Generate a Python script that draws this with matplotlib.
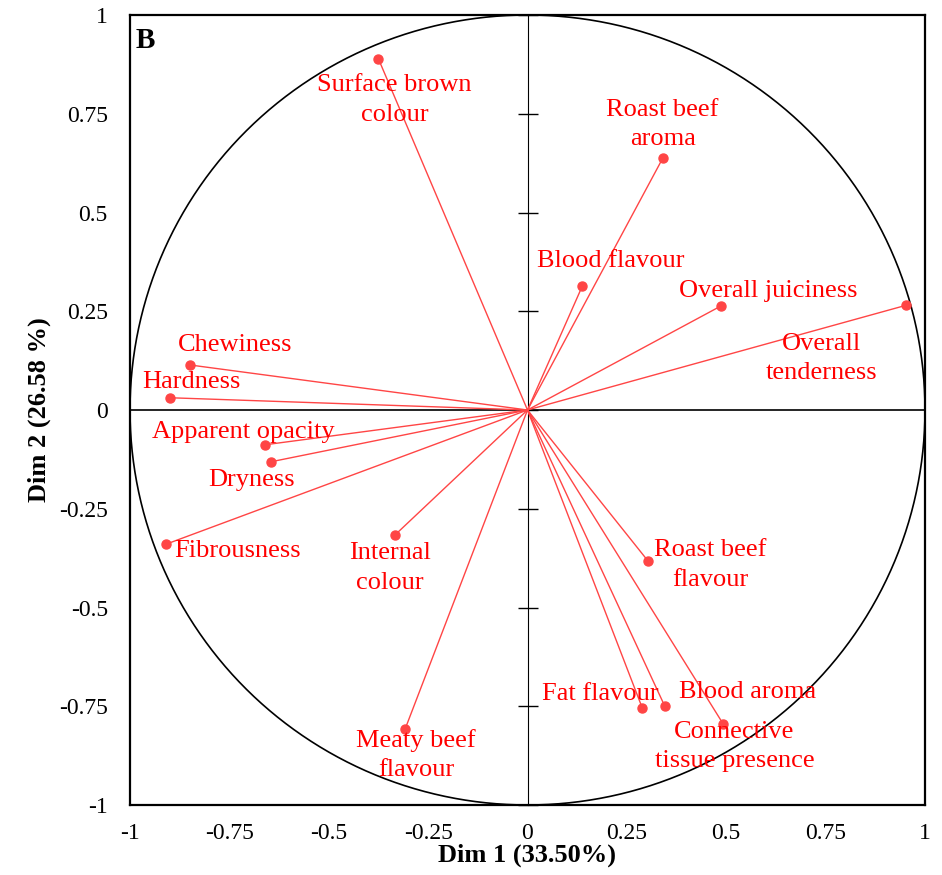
import matplotlib
matplotlib.use("Agg")
import matplotlib.pyplot as plt
import numpy as np

# Variables and their coordinates on Dim 1 / Dim 2
variables = ["Surface brown\ncolour", "Roast beef\naroma", "Blood flavour", "Overall juiciness",
             "Overall\ntenderness", "Chewiness", "Hardness", "Apparent opacity", "Dryness",
             "Fibrousness", "Internal\ncolour", "Meaty beef\nflavour", "Roast beef\nflavour",
             "Fat flavour", "Blood aroma", "Connective\ntissue presence"]
dim1 = [-0.375, 0.340, 0.138, 0.486, 0.952, -0.849, -0.899, -0.660, -0.645,
        -0.910, -0.334, -0.308, 0.303, 0.289, 0.345, 0.493]
dim2 = [0.889, 0.637, 0.314, 0.263, 0.265, 0.114, 0.031, -0.088, -0.131,
        -0.340, -0.317, -0.808, -0.382, -0.755, -0.749, -0.796]
tick_values = [-1, -0.75, -0.5, -0.25, 0, 0.25, 0.5, 0.75, 1]
tick_labels = ["-1", "-0.75", "-0.5", "-0.25", "0", "0.25", "0.5", "0.75", "1"]

# label offsets in pixels (dx right, dy down) from each point
label_offsets = [(16, 41), (0, -34), (28, -25), (48, -15), (-84, 53), (45, -20), (21, -16),
                 (-22, -13), (-20, 18), (72, 7), (-5, 33), (11, 26), (62, 4), (-42, -14),
                 (83, -14), (11, 22)]

plt.rcParams['font.family'] = ['Liberation Serif', 'DejaVu Serif']

fig = plt.figure(figsize=(9.42, 8.75), dpi=100)
ax = fig.add_axes([130 / 942, 1 - 805 / 875, 795 / 942, 790 / 875])
ax.set_xlim(-1, 1)
ax.set_ylim(-1, 1)

# correlation circle
theta = np.linspace(0, 2 * np.pi, 721)
ax.plot(np.cos(theta), np.sin(theta), color='black', lw=1.2, zorder=2)
ax.axhline(0, color='black', lw=1.2, zorder=2)

for name, x, y, (dx, dy) in zip(variables, dim1, dim2, label_offsets):
    ax.plot([0, x], [0, y], color='#ff4545', lw=1.0, zorder=3)
    ax.plot(x, y, 'o', color='#ff4545', ms=6.5, zorder=4)
    ax.annotate(name, (x, y), xytext=(dx * 0.72, -dy * 0.72), textcoords='offset points',
                ha='center', va='center', color='#ff0000', fontsize=19,
                linespacing=1.45, zorder=5)

ax.set_xticks(tick_values)
ax.set_xticklabels(tick_labels)
ax.set_yticks(tick_values)
ax.set_yticklabels(tick_labels)
ax.tick_params(axis='both', length=0, labelsize=17)
ax.tick_params(axis='x', pad=13)
ax.tick_params(axis='y', pad=16)

for s in ax.spines.values():
    s.set_linewidth(1.6)

# central vertical axis with crossing ticks
sec = ax.secondary_yaxis(0.5)
sec.set_yticks(tick_values)
sec.tick_params(direction='inout', length=14, width=1.0, labelleft=False, labelright=False)
sec.spines['left'].set_linewidth(1.2)

ax.set_xlabel("Dim 1 (33.50%)", fontsize=19, fontweight='bold', labelpad=0)
ax.set_ylabel("Dim 2 (26.58 %)", fontsize=19, fontweight='bold', labelpad=6)

ax.text(0.007, 0.985, "B", transform=ax.transAxes, ha='left', va='top',
        fontsize=21, fontweight='bold')

fig.savefig("out.png", dpi=100)
